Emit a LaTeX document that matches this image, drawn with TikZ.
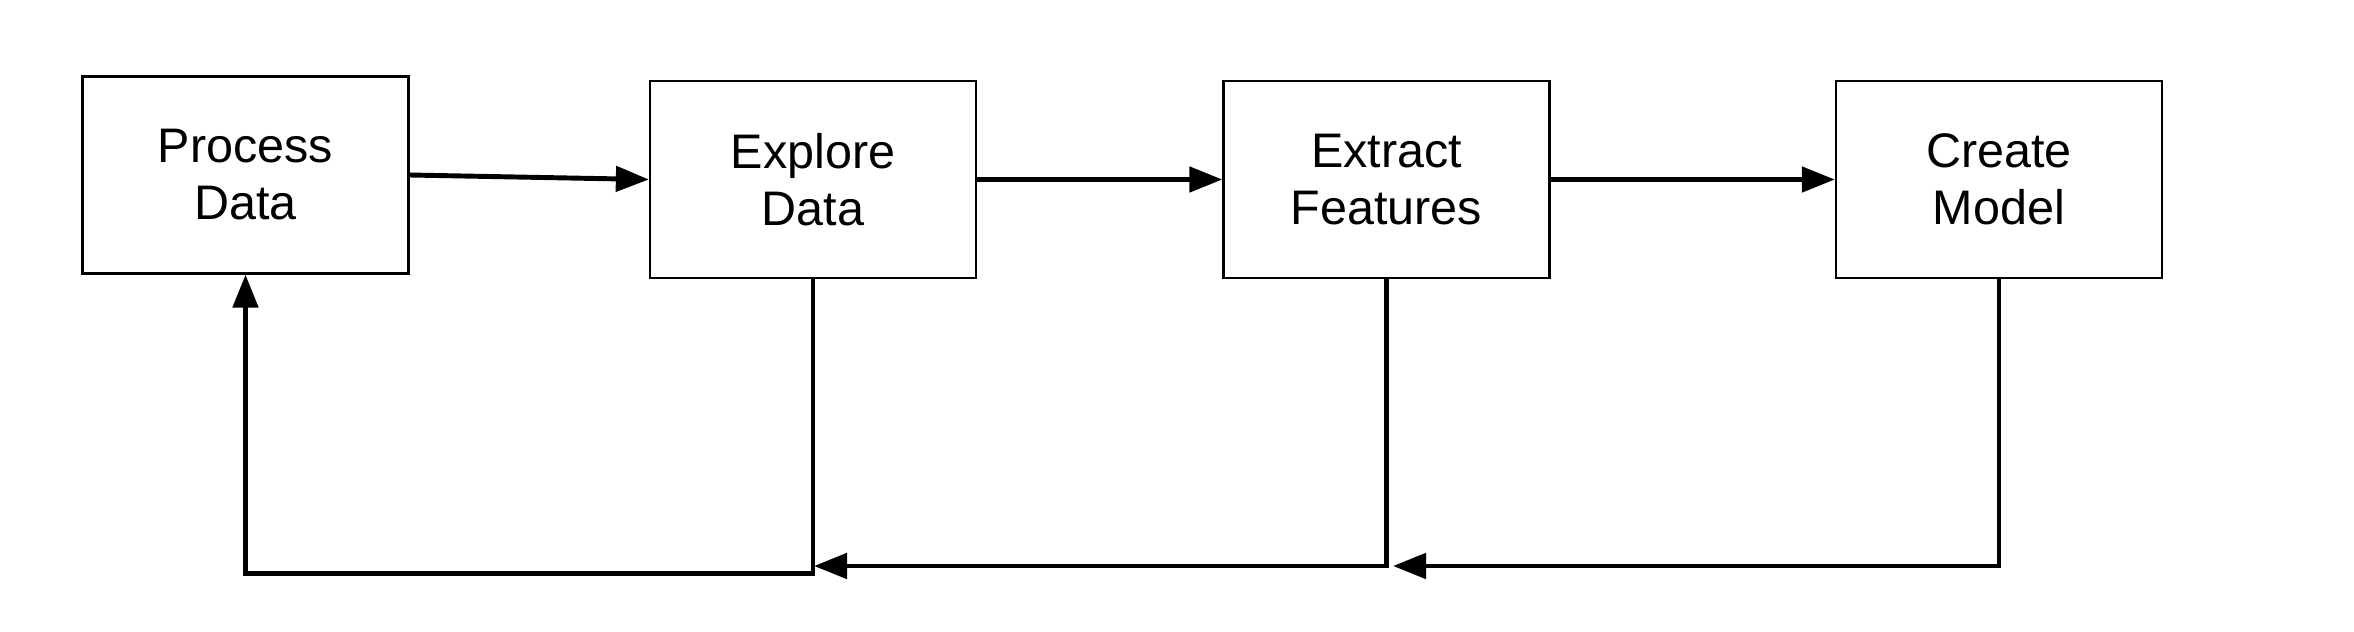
\documentclass[tikz,border=0pt]{standalone}
\usepackage{fontspec}
\setmainfont{Liberation Sans}
\usepackage{tikz}
\usetikzlibrary{arrows.meta,positioning}

\begin{document}
\begin{tikzpicture}[
    stage/.style={draw, line width=0.65pt, minimum width=3.26cm, minimum height=1.97cm,
                  align=center, inner sep=0pt, font=\fontsize{13.8}{16.2}\selectfont},
    flow/.style={line width=1.4pt, -{Triangle[length=0.33cm,width=0.25cm]}},
    fb/.style={flow, rounded corners=0pt}]
  \useasboundingbox (0,0) rectangle (23.54,-6.32);

  \node[stage] (proc)  at (2.455,-1.75)  {Process\\Data};
  \node[stage] (expl)  at (8.13,-1.795)  {Explore\\Data};
  \node[stage] (feat)  at (13.865,-1.795) {Extract\\Features};
  \node[stage] (model) at (19.99,-1.795) {Create\\Model};

  % forward steps
  \draw[flow] (proc.east) -- (expl.west);
  \draw[flow] (expl) -- (feat);
  \draw[flow] (feat) -- (model);

  % going back
  \coordinate (backA) at (8.13,-5.735);
  \coordinate (backB) at (8.14,-5.66);
  \coordinate (backC) at (13.93,-5.66);
  \draw[fb] (expl.south) -- (backA) -| (proc.south);
  \draw[fb] (feat.south) |- (backB);
  \draw[fb] (model.south) |- (backC);
\end{tikzpicture}
\end{document}
